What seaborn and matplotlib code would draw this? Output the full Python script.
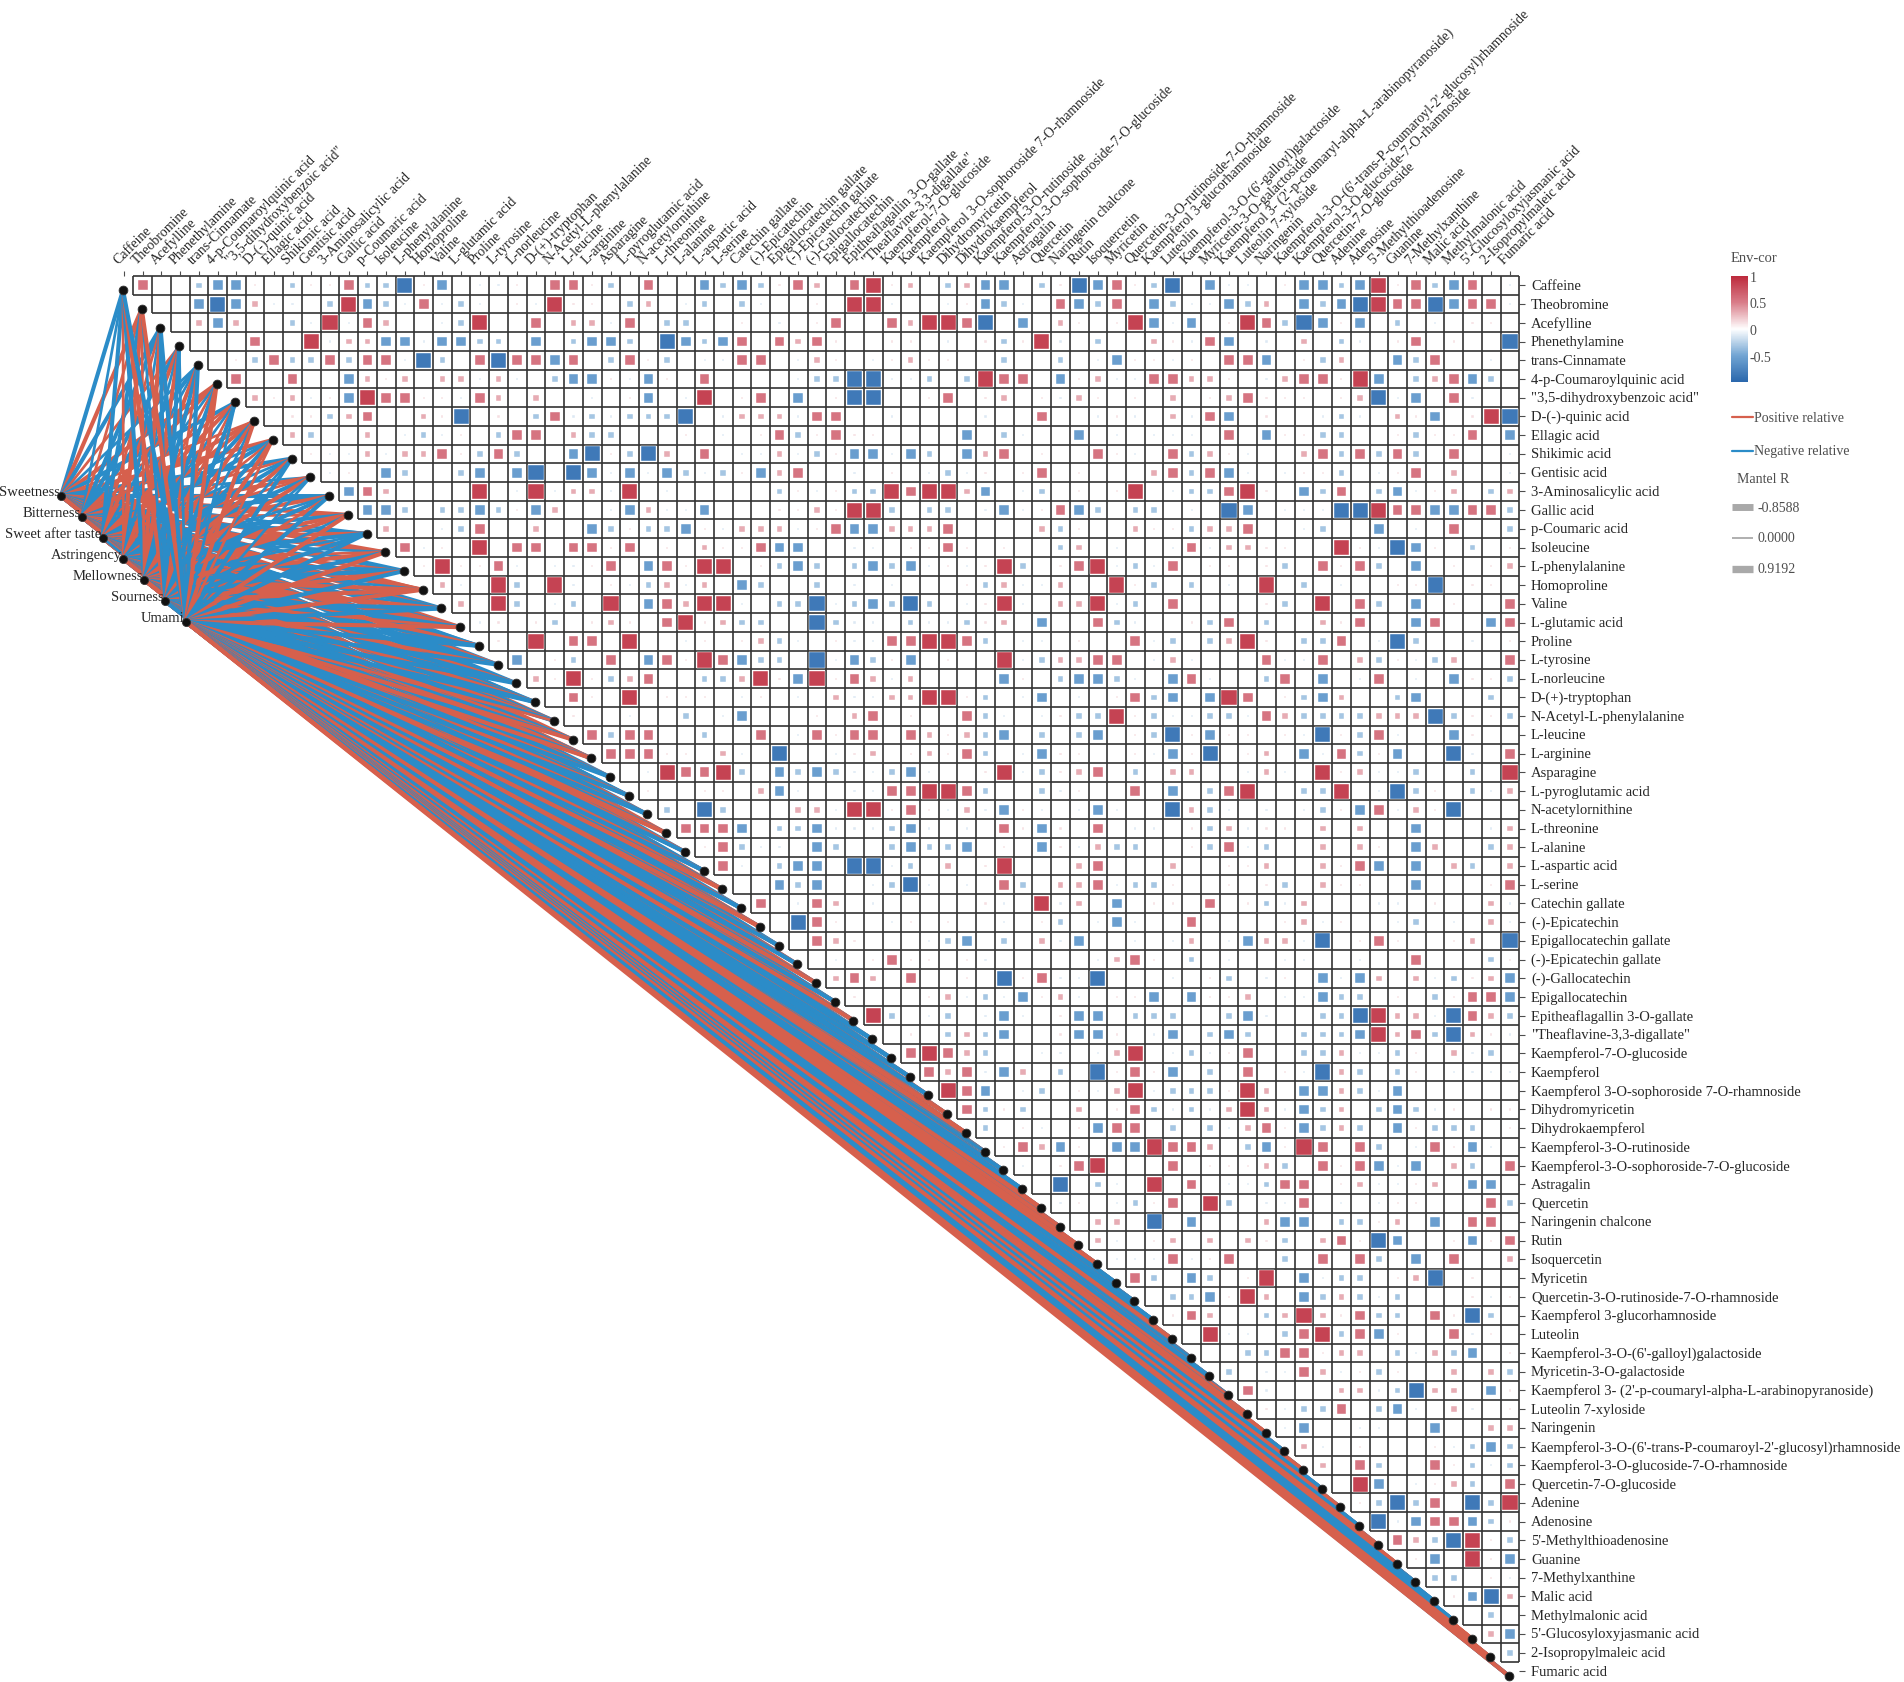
import numpy as np
import pandas as pd
import matplotlib
matplotlib.use("Agg")
import matplotlib.pyplot as plt
import seaborn as sns
from matplotlib.collections import LineCollection
from matplotlib.colors import LinearSegmentedColormap, Normalize
from matplotlib.cm import ScalarMappable
from matplotlib.lines import Line2D

compounds = [
    "Caffeine", "Theobromine", "Acefylline", "Phenethylamine", "trans-Cinnamate",
    "4-p-Coumaroylquinic acid", '"3,5-dihydroxybenzoic acid"', "D-(-)-quinic acid",
    "Ellagic acid", "Shikimic acid", "Gentisic acid", "3-Aminosalicylic acid", "Gallic acid",
    "p-Coumaric acid", "Isoleucine", "L-phenylalanine", "Homoproline", "Valine",
    "L-glutamic acid", "Proline", "L-tyrosine", "L-norleucine", "D-(+)-tryptophan",
    "N-Acetyl-L-phenylalanine", "L-leucine", "L-arginine", "Asparagine", "L-pyroglutamic acid",
    "N-acetylornithine", "L-threonine", "L-alanine", "L-aspartic acid", "L-serine",
    "Catechin gallate", "(-)-Epicatechin", "Epigallocatechin gallate", "(-)-Epicatechin gallate",
    "(-)-Gallocatechin", "Epigallocatechin", "Epitheaflagallin 3-O-gallate",
    '"Theaflavine-3,3-digallate"', "Kaempferol-7-O-glucoside", "Kaempferol",
    "Kaempferol 3-O-sophoroside 7-O-rhamnoside", "Dihydromyricetin", "Dihydrokaempferol",
    "Kaempferol-3-O-rutinoside", "Kaempferol-3-O-sophoroside-7-O-glucoside", "Astragalin",
    "Quercetin", "Naringenin chalcone", "Rutin", "Isoquercetin", "Myricetin",
    "Quercetin-3-O-rutinoside-7-O-rhamnoside", "Kaempferol 3-glucorhamnoside", "Luteolin",
    "Kaempferol-3-O-(6'-galloyl)galactoside", "Myricetin-3-O-galactoside",
    "Kaempferol 3- (2'-p-coumaryl-alpha-L-arabinopyranoside)", "Luteolin 7-xyloside",
    "Naringenin", "Kaempferol-3-O-(6'-trans-P-coumaroyl-2'-glucosyl)rhamnoside",
    "Kaempferol-3-O-glucoside-7-O-rhamnoside", "Quercetin-7-O-glucoside", "Adenine",
    "Adenosine", "5'-Methylthioadenosine", "Guanine", "7-Methylxanthine", "Malic acid",
    "Methylmalonic acid", "5'-Glucosyloxyjasmanic acid", "2-Isopropylmaleic acid", "Fumaric acid",
]

tastes = ["Sweetness", "Bitterness", "Sweet after taste", "Astringency",
          "Mellowness", "Sourness", "Umami"]

# Env-cor, upper triangle: row i holds columns i+1 .. 74
# 1-4 = positive (small -> large square), a-d = negative, 0 = empty cell
env_cor_rows = [
    "300bcc10b113bbd1c0aa10331" "b0300cbcb132034120b2cc0b" "1dc31bd0caa01ccbc413bc30a",
    "00cdc2aa0b4cba3aba01a411" "0b20ab0ba001044a00a1cba0" "3cb30cbaacb20cbcd433dc33a",
    "02c200ba4a3200ab4003022" "a30bb0010a0130032443d0c0" "21014cac0143bdc1c0b0a0110",
    "0003004a22ccaccbb0c0bc" "cb0dcbc30323100110a01b14" "a0b0021a3c0a020ba0130100d",
    "01b3bb3b33adb03d33c30" "b31b0aa330a210a121100b00" "b0ac11a1033c01b200cb300a0",
    "300300c212022a2a0bcc" "1ac1030000abbddaab0b4330" "c12aa332210a23314c0b23cb0",
    "212a1c43311a320200a" "01c0a40130c01dd001301201" "a2101020123111012dac03a00",
    "011b230021d010b3ab" "abbbd0a222a3300a0000a003" "00a1a02a3c0100aba021c014d",
    "2b0020aba10b3302b" "b00010a013b13110000c0ba0" "0c0a0aaa030c11bb001b1130c",
    "1aa2a2231b3b00cd" "1bd2030aa2ab1ccacb0c2301" "0031a03b21a0023b3b3b0300a",
    "a10cb00bc0cd0dc" "acacbab1c2300a010aba1013" "0100023b3ca0a11b0a130200a",
    "c32000040a4a22" "a40a00000b1a1bb43442c0ab" "010140abb3410cb30bca120b2",
    "ccb0bbcb1c200" "ac2aac000112144b0bb0aca1" "3cb0bb0a0dc0aaadd433cc33b",
    "200ab300200c" "b1bbc1a222a13cc222300002" "b100211b22300ab00c0a0300b",
    "3a104033033" "130102113cc00aa011310100" "b20a00a3a22110041adc10b01",
    "14113a0aa1" "30c314401bcb0bcbca1a14b0" "134aba301101b0313b0c01012",
    "2a04b04a0" "1ab2a20cb00b0a0a0001b2aa" "20041b0b0a040b0a0011d0110",
    "204b0ab0" "40c3244a0bbdabcbdb0a14a0" "224ab0300001b0403b0c01003",
    "a101b01" "2103412bb00dbaa0baab120c" "003ba001b30b0021300c300c3",
    "104033" "0400a1012ba01aa33443b0aa" "01003ab0b2410bb30adb00a01",
    "c01b030c3143cbb0dacb1c01004" "ab22330a2a0003aa302b1ab2003",
    "2141b2300bb241c4132a20000c" "10bccba0c3a00b30c0a30a0c11b",
    "0310401110a10a02aa22441b0" "ac0a013bc0c4301bc200bc000b0",
    "100a00b0ac000102301003ba" "0a1bb41baabba32bbbb222db11b",
    "3b3300b0030a313303212bc" "0b0bc01bd1c1101ad1b3a00c100",
    "3331102a0d00a1201213b0" "ac11001ac1d0120ca3b1c00da03",
    "0a4334b0cbcbaabca0014" "ab1230b02200a2a0412aab00b04",
    "1001102ca00aa33443b0" "0ba10030c0b3400bb40adb10ba2",
    "b0db00022a44131a2ac" "1a0aca00d2ba0a0ab1c3a21d000",
    "333c0bbcaaabca0a03" "1c1030aa01b2a11020200c000a2",
    "13baa0cb00bcbbc01" "0c1a2bb001b3ab0020210c200b2",
    "3a0bcc0ddab02014" "0002300020011200213c0c02b02",
    "00cbc00abda0a03" "b0223abb100101b021100c00013",
    "30a320a000001a" "04a20c0110301ba2000aa01002a",
    "0d3100a10100a" "01b0aca003000012a100ab0a02a",
    "0321000abc0b" "02ac00a0a20ac22ad013100120d",
    "0a0131101a0" "0000a2310b0a00aa00a003000b1",
    "232030010d" "13aad000a01b0a10cac202ab12c",
    "100012aba" "c12a011c0c1120aacbb010b133c",
    "4b0ab0ac" "a01cc0bbb00bca00bbd422ad32b",
    "010b2bc001cc10ac0" "bcb00bbbc423bd21a",
    "3432b00aa0a240ab" "a1300bb2aab102ab0",
    "323ac20b0d131c0" "b0301ad2b0b10aaaa",
    "43c0ab01a24abb" "b1420cc2bac000000",
    "3b1b002013bab" "a242acb20bcba1011",
    "b01a01c330b0" "ba231cb2b0c1bbb01",
    "132c10cc433" "20bc14303b0a31ca0",
    "a013400030" "1112b0313cac02b03",
    "0d0ba0403" "0aab33012aa120cc0",
    "a10ab130" "4b0aa30a0a110003b",
    "0220d0c" "0002cc0bb120c0330",
    "2a0120" "2021b0231dc001c13",
    "aaa3a" "1300b0303b0c03002",
    "3b0c" "b0140cabb012d0100",
    "0bb" "c1420cb2bab0001a1",
    "13" "200b24213bb031db0",
    "0" "4aa0b34b3c1003a10",
    "00bb331220ba2bc01",
    "b0aa32a1b100202b",
    "3a00022abd220c1",
    "1abb30bca02a01",
    "ac00aa00c0022",
    "2a010001abcb",
    "203b0031bab",
    "04c0a12b03",
    "1bdb30db4",
    "dac33cb1",
    "32bd41b",
    "1c041c",
    "bb01a",
    "1cd2",
    "0b0",
    "2c",
    "b",
    "",
]
cor_level = {"0": 0.0, "1": 0.12, "2": 0.32, "3": 0.55, "4": 0.85,
             "a": -0.12, "b": -0.32, "c": -0.55, "d": -0.85}

# Mantel links, one string per taste, one character per compound
# P/p = positive (strong/weak), N/n = negative
mantel_rows = [
    "NPNpnPNpPNnNPnPNpNPn" "NNnPPpNnNPNnPNpNPPnP" "NNnPPpNNnPPpPNnNPNNP" "PpNPnPNPpNnNPPp",
    "npNNNPpPnpPNpNPnPpnN" "PnNNpPnNPnpNPnPNnpNP" "nPNnPNPnNpPNPnNPnPNn" "PNnPNpNnPnNPpNP",
    "NNpPnnPPNnpPNPnpPNPN" "nNppPNPNnPPpNNPnNPNn" "PNNPpPnNPNnPpNpNPnpN" "nPNnPPnPNNPnPPn",
    "pPnnPpnNpNNnPNpNnnPP" "NPNnNPNpNpnNpPNpPnpP" "NnPNNPPpNPpPNPNnPPNp" "PPpPNnPPPpNNnpP",
    "NpPPNNpPNPPNPnPNPPNn" "nNPPpPnNNNPNPnPNnPNp" "nNNpPnNNnPPnPNNpNNnP" "pPNNNPNpPNnNPPP",
    "PnNNpPNnPnnpnNNPPNpN" "pnNNnNpPpPNPnNnPNNPN" "NpnNnPpPNnNPpnPNppPN" "NnPppNpNnPNpPnN",
    "NPNnNPnPpNnNPNPNPNPN" "NNNpPPNNNPnNPNPNnPNP" "NNNnPPnNNPPPPNNNPnNp" "PPNPNPNPPNNNPPP",
]
mantel_level = {"P": 0.38, "p": 0.15, "N": -0.38, "n": -0.15}

legend_mantel = [-0.8588, 0.0000, 0.9192]
cbar_ticks = [-0.5, 0, 0.5, 1]

RED_LINE = "#d6604d"
BLUE_LINE = "#2b8cc8"
GRID = "#333333"
TEXT = "#4d4d4d"

sns.set_style("white")
plt.rcParams["font.family"] = ["Liberation Serif", "DejaVu Serif"]

W, H = 1904, 1683
cell_px = 18.73
x0, y0 = 114.6, 277.0          # pixel position of the grid origin
n = len(compounds)


def line_width(r):
    # mantel R -> line width in points
    return (1.8 + 6 * abs(r)) * 0.72


fig = plt.figure(figsize=(W / 100, H / 100), dpi=100)
fig.patch.set_facecolor("white")
ax = fig.add_axes([0, 0, 1, 1])

# cells of the correlation triangle
recs = []
for i, s in enumerate(env_cor_rows):
    for j, ch in zip(range(i + 1, n), s):
        r = cor_level[ch]
        if r != 0:
            recs.append((j + 0.5, i + 0.5, r))
cells = pd.DataFrame(recs, columns=["x", "y", "r"])
cells["area"] = cells["r"] ** 2

cmap = LinearSegmentedColormap.from_list(
    "envcor", ["#2a67ac", "#72a5d3", "#ffffff", "#d97d89", "#bd2a3c"])

# links from the taste nodes to each compound, one taste after the other
taste_u = -2.86 + 1.11 * np.arange(len(tastes))
taste_v = 11.74 + 1.12 * np.arange(len(tastes))
dot_u = np.arange(n) + 0.45
dot_v = np.arange(n) + 0.75

segs, cols, lws = [], [], []
for k, s in enumerate(mantel_rows):
    for i, ch in enumerate(s):
        R = mantel_level[ch]
        segs.append([(taste_u[k], taste_v[k]), (dot_u[i], dot_v[i])])
        cols.append(RED_LINE if R > 0 else BLUE_LINE)
        lws.append(line_width(R))
ax.add_collection(LineCollection(segs, colors=cols, linewidths=lws,
                                 capstyle="butt", zorder=1))

# grid of the upper triangle
grid = [[(1, 0), (n, 0)]]
for k in range(1, n):
    grid.append([(k, k), (n, k)])
    grid.append([(k, 0), (k, k)])
grid.append([(n, 0), (n, n - 1)])
ax.add_collection(LineCollection(grid, colors=GRID, linewidths=1.2, zorder=2))

cell_pt = cell_px * 0.72
sns.scatterplot(data=cells, x="x", y="y", hue="r", hue_norm=(-1, 1), palette=cmap,
                size="area", sizes=(0, (cell_pt * 0.95) ** 2), size_norm=(0, 1),
                marker="s", edgecolor="white", linewidth=0.3, legend=False,
                ax=ax, zorder=4)

dots = pd.DataFrame({"u": dot_u, "v": dot_v})
sns.scatterplot(data=dots, x="u", y="v", color="#111111", s=40, edgecolor="#333333",
                linewidth=0.6, legend=False, ax=ax, zorder=5)
nodes = pd.DataFrame({"u": taste_u, "v": taste_v})
sns.scatterplot(data=nodes, x="u", y="v", color="#111111", s=34, edgecolor="#333333",
                linewidth=0.6, legend=False, ax=ax, zorder=5)

# labels and ticks
for i, name in enumerate(compounds):
    ax.text(n + 0.62, i + 0.5, name, ha="left", va="center", fontsize=10.5)
    ax.text(i + 0.3, -0.55, name, rotation=45, rotation_mode="anchor",
            ha="left", va="bottom", fontsize=10)
ax.hlines(np.arange(n) + 0.5, n, n + 0.28, color=TEXT, lw=0.8)
ax.vlines(np.arange(n) + 0.5, -0.28, 0, color=TEXT, lw=0.8)
for k, t in enumerate(tastes):
    ax.text(taste_u[k] - 0.06, taste_v[k] - 0.22, t, ha="right", va="center",
            fontsize=10.5)

ax.set_xlim(-x0 / cell_px, (W - x0) / cell_px)
ax.set_ylim((H - y0) / cell_px, -y0 / cell_px)
ax.axis("off")


# legend
def fx(px):
    return px / W


def fy(py):
    return 1 - py / H


fig.text(fx(1731), fy(258), "Env-cor", ha="left", va="center", fontsize=10.5, color=TEXT)
cax = fig.add_axes([fx(1731), fy(383), 17 / W, 106 / H])
cb = fig.colorbar(ScalarMappable(norm=Normalize(-1, 1), cmap=cmap), cax=cax, ticks=cbar_ticks)
cb.outline.set_visible(False)
cb.ax.set_yticklabels([f"{t:g}" for t in cbar_ticks])
cb.ax.tick_params(direction="in", color="white", length=4, width=1,
                  labelsize=10, labelcolor=TEXT, pad=1)

for py, col, lab in [(418, RED_LINE, "Positive relative"),
                     (452, BLUE_LINE, "Negative relative")]:
    fig.add_artist(Line2D([fx(1732), fx(1753)], [fy(py), fy(py)], color=col, lw=1.6))
    fig.text(fx(1754), fy(py), lab, ha="left", va="center", fontsize=10, color=TEXT)

fig.text(fx(1737), fy(480), "Mantel R", ha="left", va="center", fontsize=10, color=TEXT)
for py, r in zip([508, 539, 570], legend_mantel):
    fig.add_artist(Line2D([fx(1732), fx(1753)], [fy(py), fy(py)], color="#a9a9a9",
                          lw=line_width(r), solid_capstyle="butt"))
    fig.text(fx(1758), fy(py), f"{r:.4f}", ha="left", va="center", fontsize=10, color=TEXT)

fig.savefig("out.png", dpi=100, facecolor="white")
